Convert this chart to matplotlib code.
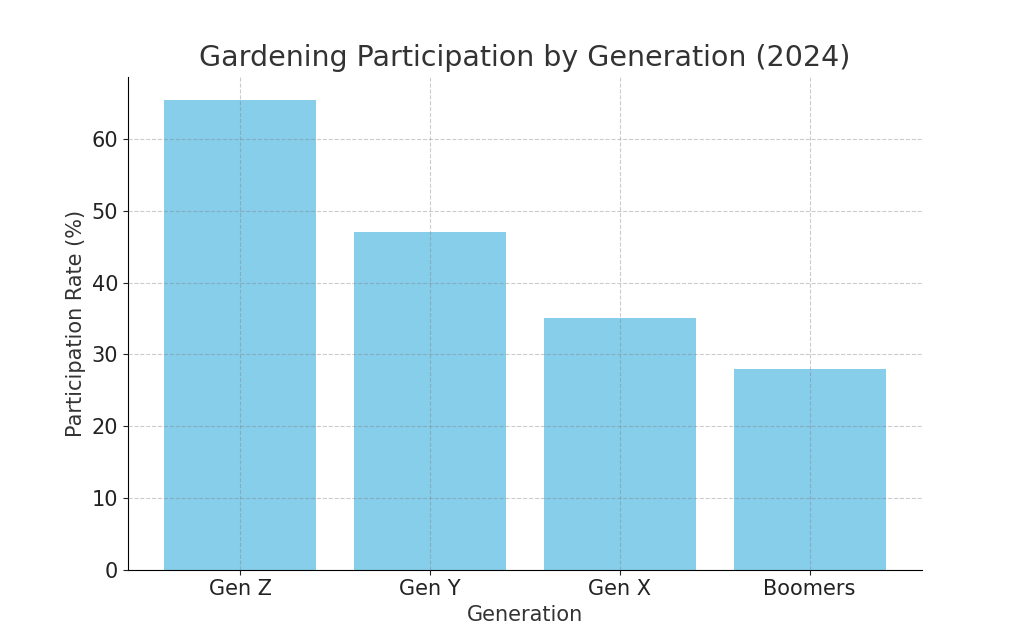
import matplotlib.pyplot as plt

# Data
generations = ['Gen Z', 'Gen Y', 'Gen X', 'Boomers']
participation = [65.4, 47.0, 35.0, 28.0]

text_color = '#333333'

fig, ax = plt.subplots(figsize=(10.24, 6.4), dpi=100)
fig.subplots_adjust(left=0.125, right=0.9, top=0.88, bottom=0.11)

ax.bar(generations, participation, color='skyblue', width=0.8)

ax.grid(True, linestyle='--', color='gray', alpha=0.4)
ax.set_axisbelow(False)

ax.set_title('Gardening Participation by Generation (2024)', fontsize=20.5,
             color=text_color, pad=8)
ax.set_xlabel('Generation', fontsize=15, color=text_color)
ax.set_ylabel('Participation Rate (%)', fontsize=15, color=text_color)
ax.tick_params(axis='both', labelsize=15, colors='#222222')

ax.spines['top'].set_visible(False)
ax.spines['right'].set_visible(False)

fig.savefig('out.png', dpi=100)
